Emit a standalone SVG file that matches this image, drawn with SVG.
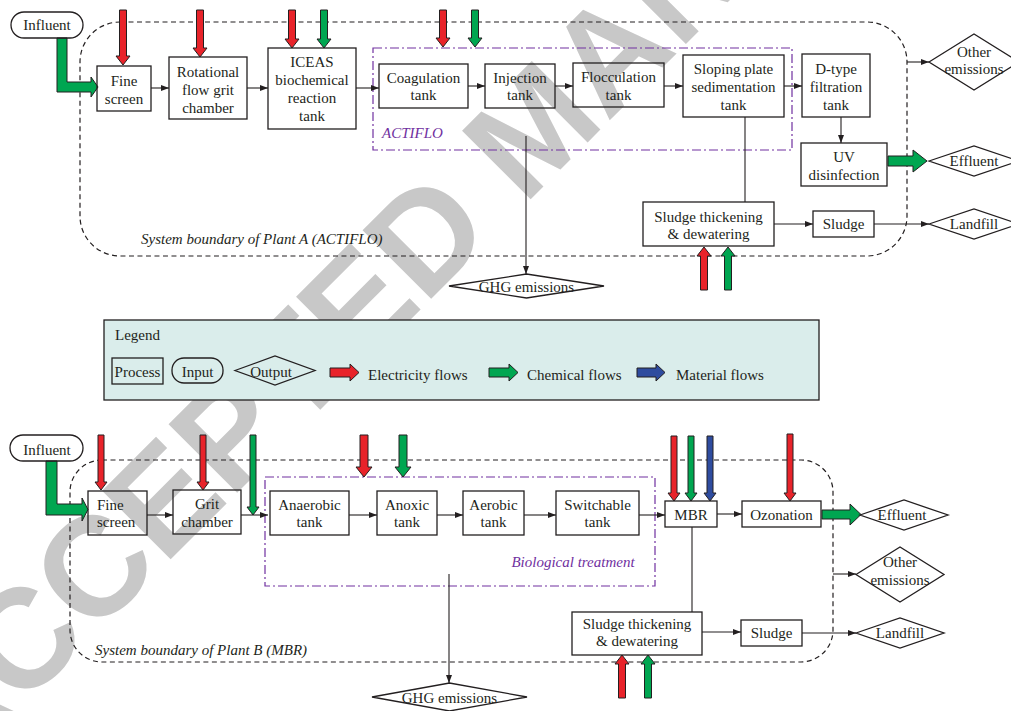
<svg xmlns="http://www.w3.org/2000/svg" width="1011" height="711" viewBox="0 0 1011 711">
<defs>
<style>
.t{font-family:"Liberation Serif","Times New Roman",serif;font-size:15px;fill:#231f20;text-anchor:middle}
.s{text-anchor:start}
.it{font-style:italic}
.pu{fill:#7030a0}
.box{fill:none;stroke:#231f20;stroke-width:1.3}
.bnd{fill:none;stroke:#231f20;stroke-width:1.2;stroke-dasharray:5 3.5}
.grp{fill:none;stroke:#7030a0;stroke-width:1.2;stroke-dasharray:9 3 2 3}
.ln{fill:none;stroke:#231f20;stroke-width:1.1}
.ar{marker-end:url(#ah)}
.fa{stroke:#231f20;stroke-width:1}
.red{fill:#e8232a}.grn{fill:#00a651}.blu{fill:#2e4c9f}
.wm{font-family:"Liberation Sans",Arial,sans-serif;font-weight:bold;font-size:141px;fill:#c8c8c8}
</style>
<marker id="ah" viewBox="0 0 8 6" refX="8" refY="3" markerWidth="8" markerHeight="6" markerUnits="userSpaceOnUse" orient="auto"><path d="M0,0 L8,3 L0,6 z" fill="#231f20"/></marker>
</defs>
<rect width="1011" height="711" fill="#fff"/>
<g id="watermark"><text class="wm" transform="translate(-52,782) rotate(-45)">ACCEPTED MANUSCRIPT</text></g>

<g id="boundaries">
<rect class="bnd" x="80" y="22" width="827" height="234" rx="40"/>
<rect class="grp" x="373" y="48" width="419" height="102"/>
<text class="t it pu s" x="382" y="138">ACTIFLO</text>
<text class="t it s" x="141" y="244">System boundary of Plant A (ACTIFLO)</text>
<rect class="bnd" x="70" y="460" width="763" height="202" rx="32"/>
<rect class="grp" x="265" y="477" width="390" height="109"/>
<text class="t it pu" x="573" y="567">Biological treatment</text>
<text class="t it s" x="95" y="655">System boundary of Plant B (MBR)</text>
</g>

<g id="connectors">
<path class="ln ar" d="M151,88 H169"/>
<path class="ln ar" d="M247,88 H268"/>
<path class="ln ar" d="M356,88 H379"/>
<path class="ln ar" d="M468,86 H485"/>
<path class="ln ar" d="M555,86 H573"/>
<path class="ln ar" d="M664,86 H683"/>
<path class="ln ar" d="M784,86 H802"/>
<path class="ln ar" d="M841,117 V143"/>
<path class="ln ar" d="M526,136 V274"/>
<path class="ln" d="M745,117 V202"/>
<path class="ln ar" d="M774,224 H813"/>
<path class="ln ar" d="M874,224 H929"/>
<path class="ln ar" d="M907,62 H929"/>
<path class="ln ar" d="M147,515 H173"/>
<path class="ln ar" d="M241,515 H268"/>
<path class="ln ar" d="M349,515 H377"/>
<path class="ln ar" d="M437,515 H463"/>
<path class="ln ar" d="M524,515 H556"/>
<path class="ln ar" d="M639,515 H665"/>
<path class="ln ar" d="M717,514 H742"/>
<path class="ln ar" d="M449,574 V683"/>
<path class="ln" d="M692,527 V612"/>
<path class="ln ar" d="M702,632 H741"/>
<path class="ln ar" d="M802,633 H856"/>
<path class="ln ar" d="M833,574 H856"/>
<!-- block flows plant A -->
<path class="fa grn" d="M57,38 L67,38 L67,82 L91,82 L91,77 L98,87 L91,97 L91,92 L57,92 Z"/>
<path class="fa red" d="M119.5,10 H126.5 V56 H130 L123,65 L116,56 H119.5 Z"/>
<path class="fa red" d="M196.5,10 H203.5 V48 H207 L200,57 L193,48 H196.5 Z"/>
<path class="fa red" d="M288.5,10 H295.5 V39 H299 L292,48 L285,39 H288.5 Z"/>
<path class="fa grn" d="M320.5,10 H327.5 V39 H331 L324,48 L317,39 H320.5 Z"/>
<path class="fa red" d="M439.5,10 H446.5 V38 H450 L443,47 L436,38 H439.5 Z"/>
<path class="fa grn" d="M471.5,10 H478.5 V38 H482 L475,47 L468,38 H471.5 Z"/>
<path class="fa red" d="M700.5,290 H707.5 V256 H711 L704,247 L697,256 H700.5 Z"/>
<path class="fa grn" d="M724.5,290 H731.5 V256 H735 L728,247 L721,256 H724.5 Z"/>
<path class="fa grn" d="M888,156 H913 V150 L927,161 L913,172 V166 H888 Z"/>
<!-- block flows plant B -->
<path class="fa grn" d="M46,461 L57,461 L57,504 L82,504 L82,498 L88,509.5 L82,521 L82,515 L46,515 Z"/>
<path class="fa red" d="M98,435 H104 V482 H107 L101,490 L95,482 H98 Z"/>
<path class="fa red" d="M200,435 H206 V482 H209 L203,490 L197,482 H200 Z"/>
<path class="fa grn" d="M250,435 H256 V507 H259 L253,515 L247,507 H250 Z"/>
<path class="fa red" d="M360,435 H368 V467 H372 L364,477 L356,467 H360 Z"/>
<path class="fa grn" d="M399,435 H407 V467 H411 L403,477 L395,467 H399 Z"/>
<path class="fa red" d="M671,436 H677 V493 H680 L674,501 L668,493 H671 Z"/>
<path class="fa grn" d="M688,436 H694 V493 H697 L691,501 L685,493 H688 Z"/>
<path class="fa blu" d="M707,436 H713 V493 H716 L710,501 L704,493 H707 Z"/>
<path class="fa red" d="M787,434 H793 V493 H796 L790,501 L784,493 H787 Z"/>
<path class="fa red" d="M618.5,698 H625.5 V664 H629 L622,655 L615,664 H618.5 Z"/>
<path class="fa grn" d="M644.5,698 H651.5 V664 H655 L648,655 L641,664 H644.5 Z"/>
<path class="fa grn" d="M822,510 H850 V504 L861,514.5 L850,525 V519 H822 Z"/>
</g>

<!-- Plant A nodes -->
<g id="a-influent"><rect class="box" x="11" y="12" width="72" height="26" rx="13"/><text class="t" x="47" y="30">Influent</text></g>
<g id="a-fine-screen"><rect class="box" x="97" y="66" width="54" height="45"/><text class="t" x="124" y="86">Fine</text><text class="t" x="124" y="104">screen</text></g>
<g id="a-grit"><rect class="box" x="169" y="57" width="78" height="62"/><text class="t" x="208" y="77">Rotational</text><text class="t" x="208" y="95">flow grit</text><text class="t" x="208" y="113">chamber</text></g>
<g id="a-iceas"><rect class="box" x="268" y="48" width="88" height="81"/><text class="t" x="312" y="67">ICEAS</text><text class="t" x="312" y="85">biochemical</text><text class="t" x="312" y="103">reaction</text><text class="t" x="312" y="121">tank</text></g>
<g id="a-coag"><rect class="box" x="379" y="64" width="89" height="44"/><text class="t" x="423.5" y="83">Coagulation</text><text class="t" x="423.5" y="100">tank</text></g>
<g id="a-inj"><rect class="box" x="485" y="64" width="70" height="44"/><text class="t" x="520" y="83">Injection</text><text class="t" x="520" y="100">tank</text></g>
<g id="a-floc"><rect class="box" x="573" y="63" width="91" height="44"/><text class="t" x="618.5" y="82">Flocculation</text><text class="t" x="618.5" y="100">tank</text></g>
<g id="a-sed"><rect class="box" x="683" y="55" width="101" height="62"/><text class="t" x="733.5" y="74">Sloping plate</text><text class="t" x="733.5" y="92">sedimentation</text><text class="t" x="733.5" y="110">tank</text></g>
<g id="a-dtype"><rect class="box" x="802" y="54" width="68" height="63"/><text class="t" x="836" y="74">D-type</text><text class="t" x="836" y="92">filtration</text><text class="t" x="836" y="110">tank</text></g>
<g id="a-uv"><rect class="box" x="801" y="143" width="86" height="43"/><text class="t" x="844" y="162">UV</text><text class="t" x="844" y="180">disinfection</text></g>
<g id="a-thick"><rect class="box" x="643" y="202" width="131" height="44"/><text class="t" x="708.5" y="222">Sludge thickening</text><text class="t" x="708.5" y="239">&amp; dewatering</text></g>
<g id="a-sludge"><rect class="box" x="813" y="211" width="61" height="26"/><text class="t" x="843.5" y="229">Sludge</text></g>
<g id="a-other"><polygon class="box" points="929,62 974,34 1019,62 974,90"/><text class="t" x="974" y="57">Other</text><text class="t" x="974" y="74">emissions</text></g>
<g id="a-effluent"><polygon class="box" points="929,161 974,146 1019,161 974,176"/><text class="t" x="974" y="166">Effluent</text></g>
<g id="a-landfill"><polygon class="box" points="929,224 974,209 1019,224 974,239"/><text class="t" x="974" y="229">Landfill</text></g>
<g id="a-ghg"><polygon class="box" points="449,286 526.5,274 604,286 526.5,298"/><text class="t" x="526.5" y="292">GHG emissions</text></g>

<!-- Legend -->
<g id="legend">
<rect x="104" y="320" width="715" height="80" fill="#daedeb" stroke="#231f20" stroke-width="1.3"/>
<text class="t s" x="115" y="340">Legend</text>
<rect class="box" x="112" y="358" width="51" height="26"/><text class="t" x="137.5" y="377">Process</text>
<rect class="box" x="172" y="358" width="51" height="25" rx="12"/><text class="t" x="197.5" y="377">Input</text>
<polygon class="box" points="235,370.5 275,356 315,370.5 275,385"/><text class="t" x="271" y="377">Output</text>
<path class="fa red" d="M330,368 H350 V364 L359,372.5 L350,381 V377 H330 Z"/>
<text class="t s" x="368" y="380">Electricity flows</text>
<path class="fa grn" d="M489,368 H509 V364 L518,372.5 L509,381 V377 H489 Z"/>
<text class="t s" x="527" y="380">Chemical flows</text>
<path class="fa blu" d="M637,368 H656 V364 L665,372.5 L656,381 V377 H637 Z"/>
<text class="t s" x="676" y="380">Material flows</text>
</g>

<!-- Plant B nodes -->
<g id="b-influent"><rect class="box" x="10" y="435" width="73" height="26" rx="13"/><text class="t" x="47" y="455">Influent</text></g>
<g id="b-fine-screen"><rect class="box" x="88" y="491" width="59" height="44"/><text class="t s" x="97" y="510">Fine</text><text class="t s" x="97" y="527">screen</text></g>
<g id="b-grit"><rect class="box" x="173" y="490" width="68" height="44"/><text class="t" x="207" y="509">Grit</text><text class="t" x="207" y="527">chamber</text></g>
<g id="b-anaerobic"><rect class="box" x="270" y="491" width="79" height="44"/><text class="t" x="309.5" y="510">Anaerobic</text><text class="t" x="309.5" y="527">tank</text></g>
<g id="b-anoxic"><rect class="box" x="377" y="491" width="60" height="44"/><text class="t" x="407" y="510">Anoxic</text><text class="t" x="407" y="527">tank</text></g>
<g id="b-aerobic"><rect class="box" x="463" y="491" width="61" height="44"/><text class="t" x="493.5" y="510">Aerobic</text><text class="t" x="493.5" y="527">tank</text></g>
<g id="b-switch"><rect class="box" x="556" y="491" width="83" height="44"/><text class="t" x="597.5" y="510">Switchable</text><text class="t" x="597.5" y="527">tank</text></g>
<g id="b-mbr"><rect class="box" x="665" y="501" width="52" height="26"/><text class="t" x="691" y="520">MBR</text></g>
<g id="b-ozon"><rect class="box" x="742" y="501" width="79" height="26"/><text class="t" x="781.5" y="520">Ozonation</text></g>
<g id="b-thick"><rect class="box" x="572" y="612" width="130" height="43"/><text class="t" x="637" y="629">Sludge thickening</text><text class="t" x="637" y="646">&amp; dewatering</text></g>
<g id="b-sludge"><rect class="box" x="741" y="620" width="61" height="26"/><text class="t" x="771.5" y="638">Sludge</text></g>
<g id="b-effluent"><polygon class="box" points="860,515 904,500 948,515 904,530"/><text class="t" x="902" y="520">Effluent</text></g>
<g id="b-other"><polygon class="box" points="856,574.5 900,547 944,574.5 900,602"/><text class="t" x="900" y="567">Other</text><text class="t" x="900" y="585">emissions</text></g>
<g id="b-landfill"><polygon class="box" points="856,633 900,618 944,633 900,648"/><text class="t" x="900" y="638">Landfill</text></g>
<g id="b-ghg"><polygon class="box" points="372,697 449.5,683 527,697 449.5,711"/><text class="t" x="449.5" y="703">GHG emissions</text></g>
</svg>
